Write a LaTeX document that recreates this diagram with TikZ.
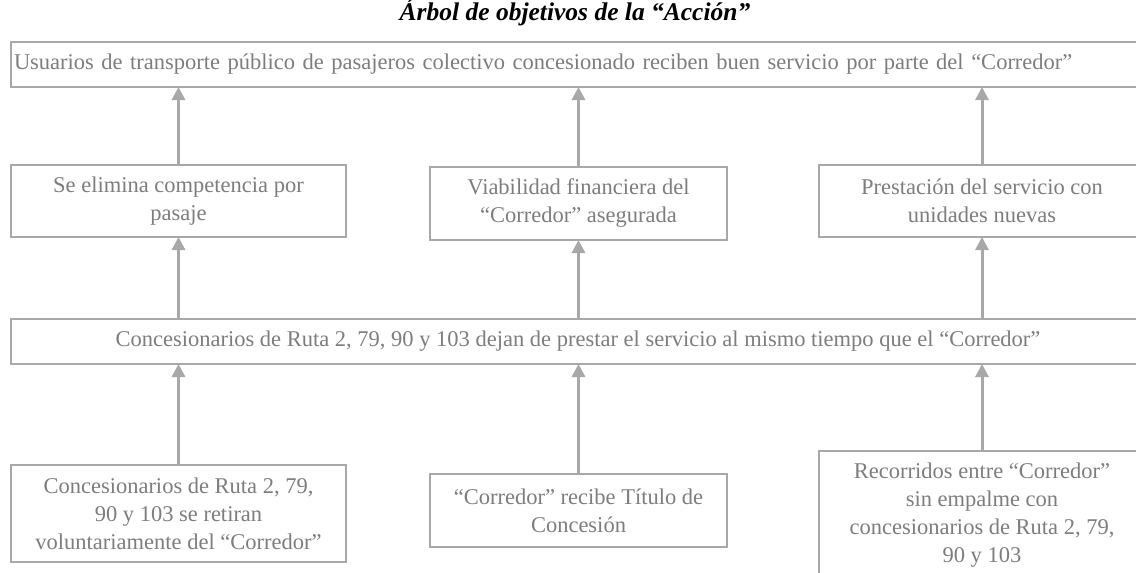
\documentclass[tikz,border=0pt]{standalone}
\usepackage{fontspec}
\setmainfont{Liberation Serif}
\usetikzlibrary{arrows.meta}
\definecolor{linea}{RGB}{168,168,168}
\definecolor{texto}{RGB}{125,125,125}

\begin{document}
\begin{tikzpicture}[x=1pt, y=-1pt,
    caja/.style={draw=linea, line width=2.2pt, text=texto, align=center, outer sep=0pt,
        inner sep=2pt, anchor=north west, font=\fontsize{22.5}{28}\selectfont},
    flecha/.style={-{Triangle[length=13pt, width=13pt]}, draw=linea, line width=3pt}]
    \useasboundingbox (0,0) rectangle (1136,573);
    \clip (0,0) rectangle (1136,573);
    \node (titulo) at (575,12) {\fontsize{25.5}{28}\selectfont\bfseries\itshape Árbol de objetivos de la “Acción”};
    % fin
    \node [caja, minimum width=1134pt, minimum height=45pt, text width=1128pt, align=left] (fin) at (11,42)
        {Usuarios de transporte público de pasajeros colectivo concesionado reciben buen servicio por parte del “Corredor”};
    % medios
    \node [caja, minimum width=335pt, minimum height=72pt] (medA) at (11,165) {Se elimina competencia por\\pasaje};
    \node [caja, minimum width=297pt, minimum height=73pt] (medB) at (430,167) {Viabilidad financiera del\\“Corredor” asegurada};
    \node [caja, minimum width=326pt, minimum height=72pt] (medC) at (819,165) {Prestación del servicio con\\unidades nuevas};
    \node [caja, minimum width=1134pt, minimum height=45pt] (dejan) at (11,319)
        {Concesionarios de Ruta 2, 79, 90 y 103 dejan de prestar el servicio al mismo tiempo que el “Corredor”};
    % base
    \node [caja, minimum width=335pt, minimum height=97pt] (baseA) at (11,465)
        {Concesionarios de Ruta 2, 79,\\90 y 103 se retiran\\voluntariamente del “Corredor”};
    \node [caja, minimum width=297pt, minimum height=73pt] (baseB) at (430,474) {“Corredor” recibe Título de\\Concesión};
    \node [caja, minimum width=326pt, minimum height=128pt] (baseC) at (819,451)
        {Recorridos entre “Corredor”\\sin empalme con\\concesionarios de Ruta 2, 79,\\90 y 103};
    % flechas
    \draw [flecha] (medA.north) -- (medA.north |- fin.south);
    \draw [flecha] (medB.north) -- (medB.north |- fin.south);
    \draw [flecha] (medC.north) -- (medC.north |- fin.south);
    \draw [flecha] (medA.south |- dejan.north) -- (medA.south);
    \draw [flecha] (medB.south |- dejan.north) -- (medB.south);
    \draw [flecha] (medC.south |- dejan.north) -- (medC.south);
    \draw [flecha] (baseA.north) -- (baseA.north |- dejan.south);
    \draw [flecha] (baseB.north) -- (baseB.north |- dejan.south);
    \draw [flecha] (baseC.north) -- (baseC.north |- dejan.south);
\end{tikzpicture}
\end{document}
